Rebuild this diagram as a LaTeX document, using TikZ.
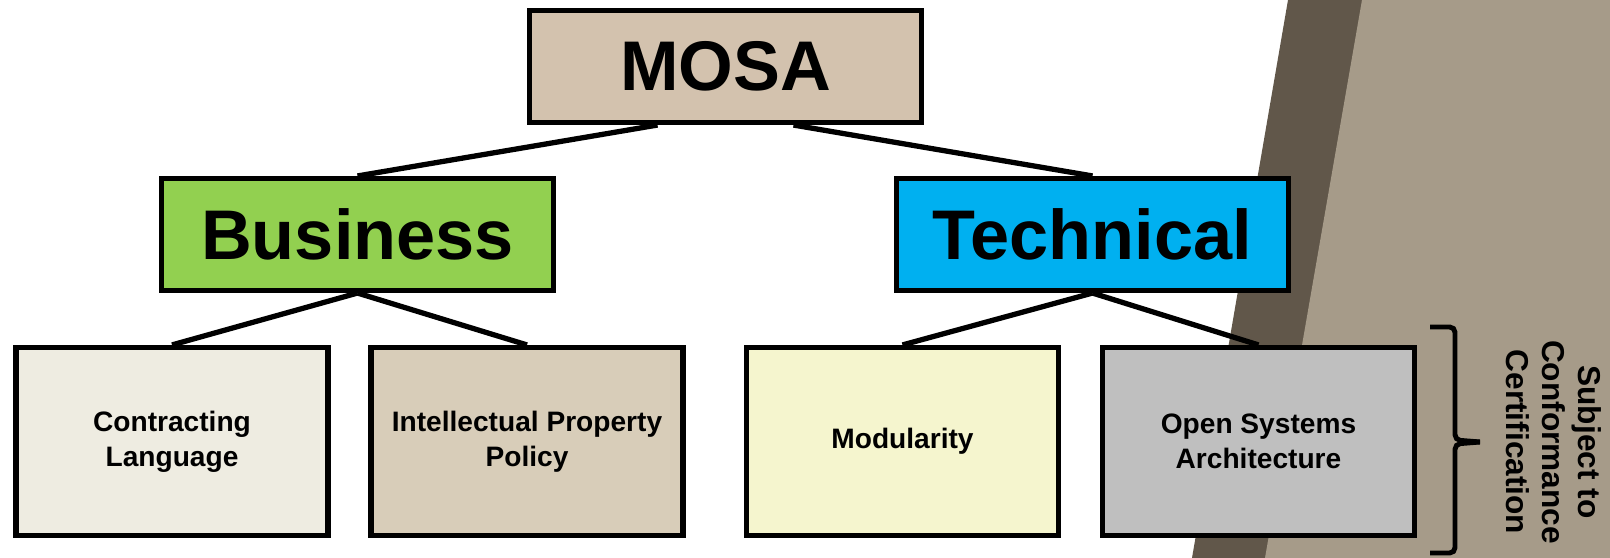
\documentclass[tikz,border=0pt]{standalone}
\usepackage{fontspec}
\setmainfont{Liberation Sans}
\usepackage{xcolor}
\usetikzlibrary{calc,positioning}
\definecolor{mosatan}{RGB}{211,194,174}
\definecolor{busgreen}{RGB}{146,208,80}
\definecolor{techblue}{RGB}{0,176,240}
\definecolor{contractfill}{RGB}{238,236,225}
\definecolor{ipfill}{RGB}{216,205,185}
\definecolor{modfill}{RGB}{245,245,206}
\definecolor{osafill}{RGB}{191,191,191}
\definecolor{banddark}{RGB}{97,87,74}
\definecolor{bandlight}{RGB}{166,155,137}
\tikzset{
  bigbox/.style   = {draw=black, line width=1.45pt, minimum width=3.92cm,
                     minimum height=1.12cm, inner sep=0pt,
                     font=\fontsize{20}{24}\selectfont\bfseries},
  leafbox/.style  = {draw=black, line width=1.45pt, minimum width=3.12cm,
                     minimum height=1.88cm, inner sep=0pt, align=center,
                     font=\fontsize{8}{10}\selectfont\bfseries},
  link/.style     = {line width=1.5pt, black},
  bracket/.style  = {line width=1.4pt, black, rounded corners=1.5pt},
  certlab/.style  = {rotate=-90, align=center, inner sep=0pt,
                     font=\fontsize{9}{10.3}\selectfont\bfseries},
}

\begin{document}
\begin{tikzpicture}
\useasboundingbox (0,0) rectangle (16.1,-5.58);
\fill[banddark] (12.88,0) -- (16.1,0) -- (16.1,-5.58) -- (11.92,-5.58) -- cycle;
\fill[bandlight] (13.62,0) -- (16.1,0) -- (16.1,-5.58) -- (12.65,-5.58) -- cycle;

\node[bigbox, fill=mosatan] (mosa) at (7.255,-0.665) {MOSA};
\node[bigbox, fill=busgreen] (bus) at (3.575,-2.345) {Business};
\node[bigbox, fill=techblue] (tech) at (10.925,-2.345) {Technical};

\node[leafbox, fill=contractfill] (contract) at (1.72,-4.415) {Contracting\\Language};
\node[leafbox, fill=ipfill] (ip) at (5.27,-4.415) {Intellectual Property\\Policy};
\node[leafbox, fill=modfill] (modul) at (9.025,-4.415) {Modularity};
\node[leafbox, fill=osafill] (osa) at (12.585,-4.415) {Open Systems\\Architecture};

\draw[link] ([xshift=-6.8mm]mosa.south) -- (bus.north);
\draw[link] ([xshift=6.8mm]mosa.south) -- (tech.north);
\draw[link] (bus.south) -- (contract.north);
\draw[link] (bus.south) -- (ip.north);
\draw[link] (tech.south) -- (modul.north);
\draw[link] (tech.south) -- (osa.north);

\draw[bracket] (14.30,-3.27) -- (14.55,-3.27) -- (14.55,-4.40) -- (14.80,-4.42);
\draw[bracket] (14.80,-4.42) -- (14.55,-4.44) -- (14.55,-5.53) -- (14.30,-5.53);
\node[certlab] (cert) at (15.54,-4.42) {Subject to\\Conformance\\Certification};
\end{tikzpicture}
\end{document}
